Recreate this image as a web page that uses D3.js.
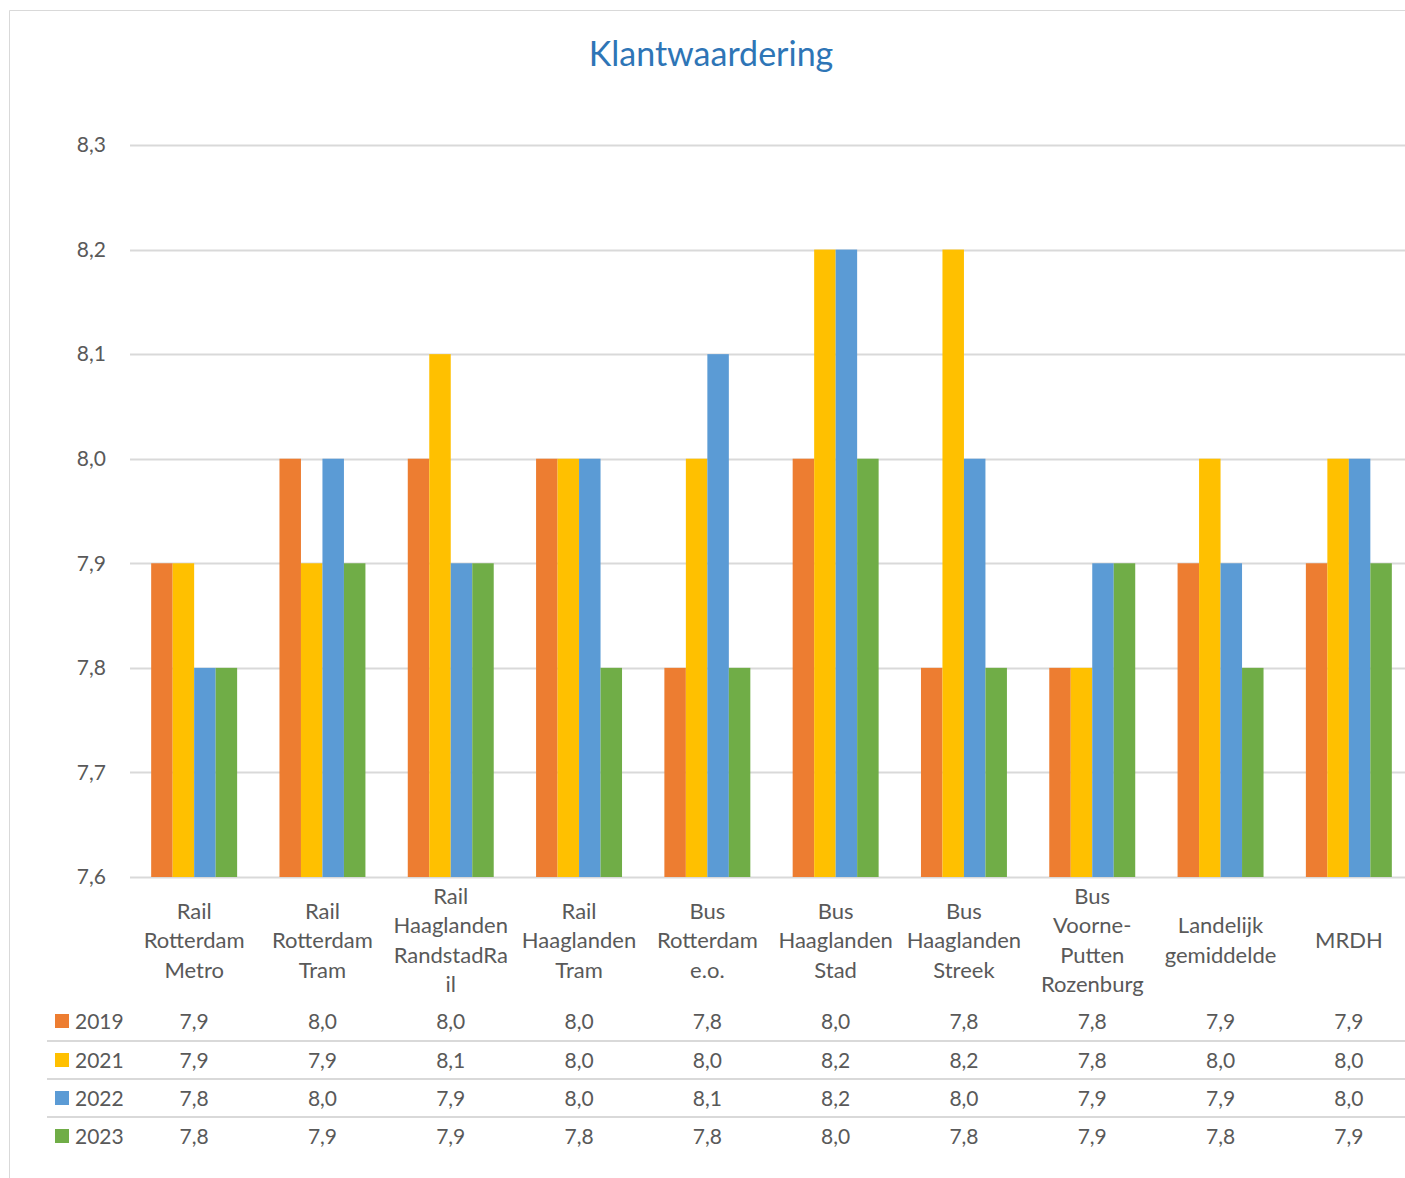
<!DOCTYPE html>
<html><head><meta charset="utf-8">
<script src="https://cdn.jsdelivr.net/npm/d3@7"></script>
<style>
html,body{margin:0;padding:0;background:#fff;}
svg{display:block;font-family:Lato,"Open Sans",sans-serif;}
</style></head>
<body><svg id="c" width="1405" height="1178"></svg>
<script>
const title = "Klantwaardering";
const categories = ["Rail Rotterdam Metro","Rail Rotterdam Tram","Rail Haaglanden RandstadRail","Rail Haaglanden Tram","Bus Rotterdam e.o.","Bus Haaglanden Stad","Bus Haaglanden Streek","Bus Voorne-Putten Rozenburg","Landelijk gemiddelde","MRDH"];
const categoryLines = [["Rail","Rotterdam","Metro"],["Rail","Rotterdam","Tram"],["Rail","Haaglanden","RandstadRa","il"],["Rail","Haaglanden","Tram"],["Bus","Rotterdam","e.o."],["Bus","Haaglanden","Stad"],["Bus","Haaglanden","Streek"],["Bus","Voorne-","Putten","Rozenburg"],["Landelijk","gemiddelde"],["MRDH"]];
const seriesNames = ["2019","2021","2022","2023"];
const seriesColors = ["#ED7D31","#FFC000","#5B9BD5","#70AD47"];
const v2019 = [7.9,8.0,8.0,8.0,7.8,8.0,7.8,7.8,7.9,7.9];
const v2021 = [7.9,7.9,8.1,8.0,8.0,8.2,8.2,7.8,8.0,8.0];
const v2022 = [7.8,8.0,7.9,8.0,8.1,8.2,8.0,7.9,7.9,8.0];
const v2023 = [7.8,7.9,7.9,7.8,7.8,8.0,7.8,7.9,7.8,7.9];
const seriesValues = [v2019,v2021,v2022,v2023];
const yTicks = [7.6,7.7,7.8,7.9,8.0,8.1,8.2,8.3];

const loc = d3.formatLocale({decimal:",",thousands:".",grouping:[3],currency:["€",""]});
const fmt = loc.format(".1f");
const svg = d3.select("#c");
const textCol = "#595959", gridCol = "#d9d9d9";

// border
svg.append("path").attr("d","M9.5,1178 V10.5 H1405").attr("fill","none").attr("stroke",gridCol).attr("stroke-width",1);

svg.append("text").attr("x",711).attr("y",66).attr("text-anchor","middle")
  .attr("font-size",34).attr("fill","#2E75B6").text(title);

const x = d3.scaleBand().domain(categories).range([130,1413]).paddingInner(0).paddingOuter(0);
const y = d3.scaleLinear().domain([7.6,8.3]).range([877,145]);
const groupW = x.bandwidth()*0.67;
const xg = d3.scaleBand().domain(seriesNames).range([(x.bandwidth()-groupW)/2,(x.bandwidth()+groupW)/2]);

// gridlines
svg.append("g").selectAll("line").data(yTicks).join("line")
  .attr("x1",130).attr("x2",1405).attr("y1",d=>Math.round(y(d))+0.5).attr("y2",d=>Math.round(y(d))+0.5)
  .attr("stroke",gridCol).attr("stroke-width",2);

const yAxis = d3.axisLeft(y).tickValues(yTicks).tickFormat(fmt).tickSize(0).tickPadding(0);
const ga = svg.append("g").attr("transform","translate(106,0)").call(yAxis);
ga.select(".domain").remove();
ga.selectAll("text").attr("font-size",21).attr("fill",textCol).attr("font-family","Lato,sans-serif");

// bars
const groups = svg.append("g").selectAll("g").data(categories).join("g")
  .attr("transform",d=>`translate(${x(d)},0)`);
groups.selectAll("rect").data((d,i)=>seriesNames.map((s,j)=>({s,j,v:seriesValues[j][i]}))).join("rect")
  .attr("x",d=>xg(d.s)).attr("width",xg.bandwidth())
  .attr("y",d=>y(d.v)).attr("height",d=>y(7.6)-y(d.v))
  .attr("fill",d=>seriesColors[d.j]);

// category labels
const lh = 29.5;
categories.forEach((c,i)=>{
  const lines = categoryLines[i];
  const cx = x(c)+x.bandwidth()/2;
  const t = svg.append("text").attr("text-anchor","middle").attr("font-size",22).attr("fill",textCol);
  const y0 = 940 - (lines.length-1)*lh/2 + 8;
  lines.forEach((l,k)=>t.append("tspan").attr("x",cx).attr("y",y0+k*lh).text(l));
});

// data table
const rowY = [1021,1060,1098,1136];
[1041,1079,1117].forEach(yy=>svg.append("line").attr("x1",47).attr("x2",1405).attr("y1",yy).attr("y2",yy).attr("stroke",gridCol).attr("stroke-width",2));
seriesNames.forEach((s,j)=>{
  svg.append("rect").attr("x",55).attr("y",rowY[j]-7).attr("width",14).attr("height",14).attr("fill",seriesColors[j]);
  svg.append("text").attr("x",75).attr("y",rowY[j]+8).attr("font-size",21).attr("fill",textCol).text(s);
  categories.forEach((c,i)=>{
    svg.append("text").attr("x",x(c)+x.bandwidth()/2).attr("y",rowY[j]+8).attr("text-anchor","middle")
      .attr("font-size",21).attr("fill",textCol).text(fmt(seriesValues[j][i]));
  });
});
</script></body></html>
